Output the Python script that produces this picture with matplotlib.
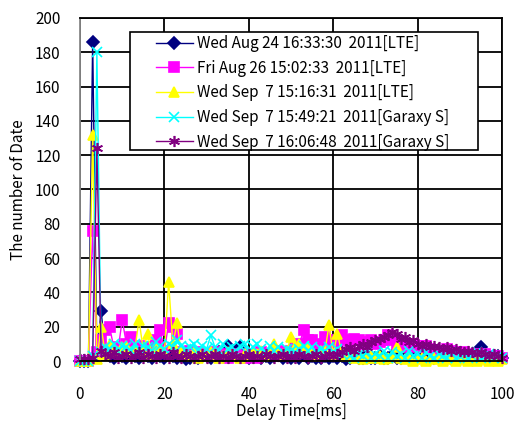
import numpy as np
import matplotlib
matplotlib.use('Agg')
import matplotlib.pyplot as plt
from matplotlib.patches import Rectangle

plt.rcParams['font.family'] = ['Noto Sans CJK JP', 'DejaVu Sans']

# delay time [ms], 1 ms bins
delay = np.arange(0, 101)

labels = ['Wed Aug 24 16:33:30  2011[LTE]',
          'Fri Aug 26 15:02:33  2011[LTE]',
          'Wed Sep  7 15:16:31  2011[LTE]',
          'Wed Sep  7 15:49:21  2011[Garaxy S]',
          'Wed Sep  7 16:06:48  2011[Garaxy S]']

aug24 = [0, 0, 0, 186, 4, 29, 6, 3, 2, 4,
         3, 2, 5, 3, 2, 4, 3, 2, 5, 3,
         2, 4, 3, 2, 3, 1, 2, 4, 2, 3,
         3, 2, 4, 5, 3, 9, 4, 6, 8, 3,
         2, 3, 4, 2, 3, 2, 3, 4, 2, 3,
         2, 3, 2, 4, 2, 3, 2, 2, 3, 2,
         3, 2, 3, 1, 2, 3, 2, 2, 3, 2,
         2, 3, 2, 2, 3, 2, 2, 3, 2, 2,
         3, 2, 2, 3, 2, 2, 3, 2, 2, 3,
         2, 2, 3, 2, 4, 8, 3, 2, 2, 3, 2]

aug26 = [0, 0, 0, 76, 5, 12, 18, 20, 8, 6,
         24, 10, 14, 7, 9, 6, 5, 8, 12, 18,
         6, 22, 20, 16, 5, 4, 6, 3, 5, 4,
         3, 4, 5, 3, 4, 2, 3, 4, 3, 2,
         4, 3, 2, 5, 3, 4, 3, 6, 4, 5,
         6, 8, 10, 18, 12, 12, 10, 8, 14, 12,
         10, 8, 15, 12, 11, 13, 12, 10, 11, 12,
         10, 11, 12, 15, 12, 10, 9, 8, 10, 9,
         8, 9, 9, 7, 6, 5, 6, 7, 6, 5,
         4, 5, 4, 3, 4, 3, 4, 3, 2, 3, 2]

sep7_lte = [0, 0, 0, 132, 1, 20, 4, 10, 6, 5,
            8, 9, 5, 7, 24, 6, 16, 4, 8, 6,
            5, 46, 10, 22, 5, 4, 3, 5, 2, 4,
            3, 5, 4, 2, 3, 5, 4, 3, 2, 4,
            3, 5, 4, 6, 3, 4, 10, 5, 4, 6,
            14, 8, 10, 5, 8, 4, 3, 6, 5, 21,
            4, 16, 5, 3, 4, 2, 3, 1, 2, 3,
            2, 3, 1, 2, 3, 8, 2, 1, 2, 0,
            1, 2, 0, 1, 2, 1, 0, 2, 1, 0,
            1, 2, 0, 1, 0, 2, 1, 0, 1, 0, 1]

sep7_gs1 = [0, 0, 0, 3, 180, 5, 8, 7, 10, 6,
            9, 8, 6, 10, 7, 9, 8, 6, 11, 9,
            7, 10, 8, 12, 9, 7, 8, 10, 6, 9,
            7, 15, 8, 6, 10, 7, 8, 5, 9, 10,
            6, 8, 10, 7, 5, 9, 6, 8, 5, 7,
            6, 5, 7, 9, 6, 8, 5, 7, 6, 8,
            5, 7, 4, 6, 3, 2, 4, 3, 5, 2,
            4, 3, 6, 2, 5, 3, 4, 2, 6, 3,
            4, 2, 5, 3, 2, 4, 3, 2, 5, 2,
            3, 4, 2, 3, 5, 2, 3, 4, 2, 3, 2]

sep7_gs2 = [1, 1, 1, 2, 124, 6, 4, 3, 5, 2,
            3, 4, 2, 3, 5, 2, 4, 3, 2, 4,
            3, 2, 5, 3, 2, 4, 3, 2, 3, 4,
            2, 3, 4, 2, 3, 2, 4, 3, 2, 3,
            4, 2, 3, 2, 4, 3, 2, 3, 4, 2,
            3, 2, 4, 3, 2, 3, 4, 2, 3, 4,
            3, 4, 5, 7, 8, 6, 9, 10, 8, 11,
            12, 13, 14, 15, 17, 16, 13, 14, 11, 12,
            10, 9, 10, 8, 9, 8, 7, 8, 6, 7,
            6, 5, 6, 5, 4, 5, 4, 3, 4, 3, 2]

series = [aug24, aug26, sep7_lte, sep7_gs1, sep7_gs2]
colors = ['#000080', '#FF00FF', '#FFFF00', '#00FFFF', '#800080']
markers = ['D', 's', '^', 'x', (6, 2, 0)]
msizes = [6, 7, 7, 7, 8]

fig = plt.figure(figsize=(5.18, 4.21), dpi=100)
ax = fig.add_axes([80 / 518, 1 - 361 / 421, 422 / 518, 343 / 421])

for ys, c, m, ms, lab in zip(series, colors, markers, msizes, labels):
    ax.plot(delay, ys, color=c, marker=m, markersize=ms, linewidth=1,
            markeredgewidth=1.2, label=lab, clip_on=False)

ax.set_xlim(0, 100)
ax.set_ylim(0, 200)
ax.set_xticks(range(0, 101, 20))
ax.set_yticks(range(0, 201, 20))
ax.grid(True, color='black', linewidth=1.3)
ax.set_axisbelow(True)
ax.tick_params(length=0, labelsize=11)
ax.tick_params(axis='x', pad=18)
ax.tick_params(axis='y', pad=14)
for s in ax.spines.values():
    s.set_color('black')
    s.set_linewidth(1.3)
ax.spines['left'].set_color('#888888')

ax.set_xlabel('Delay Time[ms]', fontsize=11, labelpad=0)
ax.set_ylabel('The number of Date', fontsize=11, labelpad=6)

# legend box
ax.add_patch(Rectangle((50 / 422, 211 / 343), 348 / 422, 118 / 343,
                       transform=ax.transAxes, facecolor='white',
                       edgecolor='black', linewidth=1.2, zorder=4.5))
ax.legend(loc='upper left', bbox_to_anchor=(76 / 422, 326 / 343),
          frameon=False, fontsize=11, borderpad=0, borderaxespad=0,
          handlelength=2.4, handletextpad=0.3, labelspacing=0.5)

fig.savefig('out.png', dpi=100)
